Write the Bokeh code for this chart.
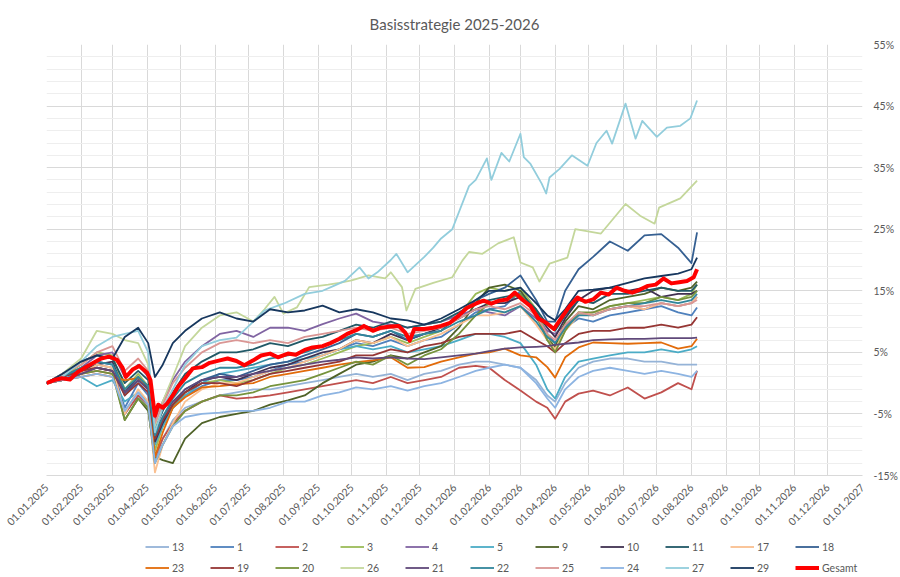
import math
import pandas as pd
from bokeh.plotting import figure
from bokeh.layouts import column
from bokeh.models import FixedTicker, DatetimeTickFormatter, PrintfTickFormatter, Legend, LegendItem
from bokeh.embed import file_html
from bokeh.resources import INLINE

fechas = ["2025-01-01", "2025-01-15", "2025-02-01", "2025-02-15", "2025-03-01", "2025-03-12", "2025-03-24", "2025-04-02", "2025-04-08", "2025-04-15",
          "2025-04-24", "2025-05-05", "2025-05-20", "2025-06-05", "2025-06-20", "2025-07-05", "2025-07-20", "2025-08-05", "2025-08-20", "2025-09-05",
          "2025-09-20", "2025-10-05", "2025-10-20", "2025-11-05", "2025-11-20", "2025-12-05", "2025-12-20", "2026-01-05", "2026-01-20", "2026-02-01",
          "2026-02-15", "2026-03-01", "2026-03-15", "2026-03-25", "2026-04-01", "2026-04-10", "2026-04-22", "2026-05-05", "2026-05-20", "2026-06-05",
          "2026-06-20", "2026-07-05", "2026-07-20", "2026-08-01", "2026-08-06"]

# dichtere Stuetzstellen fuer die auffaelligsten Linien
fechas_26 = ["2025-01-01", "2025-01-15", "2025-02-01", "2025-02-15", "2025-03-01", "2025-03-12", "2025-03-24", "2025-04-02", "2025-04-08", "2025-04-15",
             "2025-04-24", "2025-05-05", "2025-05-20", "2025-06-05", "2025-06-20", "2025-07-05", "2025-07-15", "2025-07-24", "2025-08-01", "2025-08-13",
             "2025-08-24", "2025-09-10", "2025-09-20", "2025-10-01", "2025-10-16", "2025-10-31", "2025-11-05", "2025-11-15", "2025-11-19", "2025-11-27",
             "2025-12-13", "2025-12-30", "2026-01-08", "2026-01-14", "2026-01-26", "2026-02-09", "2026-02-23", "2026-03-01", "2026-03-12", "2026-03-18",
             "2026-03-27", "2026-04-12", "2026-04-19", "2026-05-12", "2026-06-03", "2026-06-16", "2026-06-29", "2026-07-03", "2026-07-22", "2026-08-06"]
fechas_27 = ["2025-01-01", "2025-01-15", "2025-02-01", "2025-02-15", "2025-03-01", "2025-03-12", "2025-03-24", "2025-04-02", "2025-04-08", "2025-04-15",
             "2025-04-24", "2025-05-05", "2025-05-20", "2025-06-05", "2025-06-20", "2025-07-05", "2025-07-15", "2025-08-01", "2025-08-20", "2025-09-05",
             "2025-09-15", "2025-09-25", "2025-10-08", "2025-10-16", "2025-10-24", "2025-11-05", "2025-11-10", "2025-11-20", "2025-12-05", "2025-12-13",
             "2025-12-20", "2025-12-30", "2026-01-14", "2026-01-20", "2026-01-30", "2026-02-03", "2026-02-12", "2026-02-19", "2026-03-01", "2026-03-04",
             "2026-03-10", "2026-03-20", "2026-03-24", "2026-03-27", "2026-04-05", "2026-04-16", "2026-04-30", "2026-05-08", "2026-05-17", "2026-05-22",
             "2026-06-03", "2026-06-12", "2026-06-18", "2026-07-01", "2026-07-10", "2026-07-22", "2026-07-31", "2026-08-06"]
fechas_gesamt = ["2025-01-01", "2025-01-08", "2025-01-15", "2025-01-22", "2025-01-29", "2025-02-05", "2025-02-12", "2025-02-19", "2025-02-26", "2025-03-05",
                 "2025-03-10", "2025-03-13", "2025-03-19", "2025-03-25", "2025-04-01", "2025-04-04", "2025-04-08", "2025-04-11", "2025-04-15", "2025-04-19",
                 "2025-04-24", "2025-04-29", "2025-05-05", "2025-05-12", "2025-05-20", "2025-05-27", "2025-06-05", "2025-06-12", "2025-06-20", "2025-06-27",
                 "2025-07-05", "2025-07-12", "2025-07-20", "2025-07-27", "2025-08-05", "2025-08-12", "2025-08-20", "2025-08-27", "2025-09-05", "2025-09-12",
                 "2025-09-20", "2025-09-27", "2025-10-05", "2025-10-12", "2025-10-20", "2025-10-27", "2025-11-05", "2025-11-12", "2025-11-18", "2025-11-22",
                 "2025-11-26", "2025-12-05", "2025-12-13", "2025-12-20", "2025-12-28", "2026-01-05", "2026-01-12", "2026-01-20", "2026-01-27", "2026-02-03",
                 "2026-02-10", "2026-02-17", "2026-02-24", "2026-03-03", "2026-03-10", "2026-03-17", "2026-03-24", "2026-03-31", "2026-04-07", "2026-04-14",
                 "2026-04-21", "2026-04-28", "2026-05-05", "2026-05-12", "2026-05-19", "2026-05-26", "2026-06-02", "2026-06-09", "2026-06-16", "2026-06-23",
                 "2026-06-30", "2026-07-07", "2026-07-14", "2026-07-21", "2026-07-28", "2026-08-03", "2026-08-06"]

s13 = [0, 1.0, 2.0, 2.5, 2.0, -5.0, -2.0, -4.0, -12.5, -9.0,
       -6.0, -4.0, -3.0, -2.0, -1.5, -1.0, -1.0, -0.5, 0.0, 0.5,
       1.0, 1.5, 1.0, 1.5, 0.5, 1.5, 2.0, 3.0, 3.5, 3.5,
       3.0, 2.5, 0.5, -2.0, -3.0, 0.0, 2.5, 3.5, 4.0, 4.0,
       3.5, 3.5, 3.0, 3.0, 3.0]
s1 = [0, 0.5, 2.0, 3.0, 2.5, -4.0, 0.0, -2.0, -10.0, -7.0,
      -4.0, -2.0, -0.5, 0.5, 0.5, 1.0, 2.0, 3.0, 3.5, 4.5,
      5.5, 6.5, 6.0, 7.0, 6.0, 7.0, 7.5, 9.5, 11.5, 12.0,
      12.5, 15.0, 11.0, 8.0, 6.5, 9.0, 10.5, 10.0, 11.0, 11.5,
      12.0, 12.5, 11.5, 11.0, 12.3]
s2 = [0, 0.5, 1.5, 2.0, 1.5, -5.0, -2.0, -3.5, -12.0, -9.0,
      -6.5, -4.5, -3.0, -2.0, -2.5, -2.3, -2.0, -1.5, -1.0, -0.5,
      0.0, 0.5, 0.0, 1.0, 0.0, 0.5, 1.0, 2.5, 2.8, 2.5,
      0.5, -1.2, -3.0, -4.0, -5.8, -3.0, -1.7, -1.2, -2.0, -0.7,
      -2.5, -1.5, 0.0, -1.0, 2.0]
s3 = [0, 1.0, 3.0, 5.0, 4.5, -1.0, 1.5, -0.5, -11.0, -7.0,
      -4.0, -1.5, 0.0, 0.5, 0.0, 0.5, 1.5, 2.5, 3.0, 4.0,
      5.0, 6.0, 6.5, 7.5, 6.5, 7.5, 8.5, 11.0, 14.5, 15.5,
      15.0, 15.5, 12.0, 8.0, 5.5, 9.0, 11.5, 11.0, 12.5, 13.0,
      13.5, 14.0, 13.5, 14.5, 16.0]
s4 = [0, 1.0, 2.5, 4.5, 5.0, 1.0, 3.0, 1.0, -6.0, -3.0,
      0.5, 3.5, 6.0, 8.0, 8.5, 7.5, 9.0, 9.0, 8.5, 9.6,
      10.5, 11.3, 10.0, 9.5, 9.0, 9.5, 10.0, 11.0, 12.0, 11.5,
      11.0, 12.5, 10.5, 8.5, 8.0, 9.5, 11.0, 11.5, 12.0, 12.5,
      12.0, 13.0, 12.5, 13.0, 14.0]
s5 = [0, 0.5, 1.0, -0.5, 0.5, -3.0, -1.5, -3.0, -10.0, -7.0,
      -4.0, -2.0, 0.0, 1.5, 2.0, 2.5, 3.0, 3.5, 4.0, 4.5,
      5.5, 6.0, 5.5, 6.0, 5.0, 5.5, 6.0, 7.0, 8.0, 8.0,
      7.5, 6.5, 3.0, -1.0, -2.5, 1.0, 3.5, 4.0, 4.5, 5.0,
      5.0, 5.5, 5.0, 5.5, 6.0]
s9 = [0, 0.5, 1.5, 2.5, 2.0, -6.0, -2.5, -4.5, -12.0, -12.5,
      -13.0, -9.0, -6.5, -5.5, -5.0, -4.5, -3.5, -2.8, -2.0, 0.0,
      1.5, 3.0, 3.5, 4.5, 4.0, 5.0, 6.0, 9.0, 13.0, 15.5,
      16.0, 15.0, 11.5, 7.0, 6.0, 10.0, 12.5, 12.0, 13.5, 14.0,
      14.5, 15.5, 15.0, 15.5, 16.5]
s10 = [0, 1.0, 2.0, 3.0, 3.5, -1.5, 1.0, -1.0, -9.5, -6.5,
       -3.5, -1.5, 0.5, 1.0, 0.5, 1.5, 2.5, 3.0, 4.0, 5.0,
       5.5, 7.0, 6.5, 8.0, 7.0, 8.0, 9.0, 10.5, 12.0, 13.0,
       13.0, 14.0, 11.5, 9.0, 7.5, 10.5, 13.5, 15.0, 15.5, 15.0,
       15.5, 14.0, 14.5, 14.5, 15.0]
s11 = [0, 1.5, 3.5, 4.5, 4.0, 0.0, 2.0, 0.5, -7.5, -4.5,
       -1.5, 1.5, 3.5, 5.0, 5.0, 5.5, 6.5, 6.0, 7.0, 7.5,
       8.5, 9.5, 9.0, 10.0, 9.0, 9.5, 10.0, 11.5, 13.0, 13.5,
       14.0, 14.5, 12.0, 9.5, 8.5, 11.0, 13.5, 13.0, 14.5, 14.5,
       15.0, 15.5, 15.0, 15.0, 16.0]
s17 = [0, 0.5, 1.5, 3.0, 2.5, -5.0, -1.0, -3.0, -14.5, -10.0,
       -6.5, -3.0, -1.0, 0.0, 0.0, 1.0, 2.0, 2.5, 3.5, 4.5,
       5.5, 7.0, 6.5, 7.5, 6.0, 7.0, 8.0, 9.5, 11.0, 11.0,
       11.5, 12.5, 9.5, 7.0, 5.5, 8.5, 11.0, 11.5, 12.0, 12.5,
       12.0, 13.0, 12.5, 13.0, 14.0]
s18 = [0, 1.0, 2.5, 3.5, 3.0, -2.0, 0.5, -1.0, -9.0, -6.0,
       -3.5, -1.0, 0.5, 1.5, 1.0, 2.0, 3.0, 3.5, 4.5, 5.5,
       6.5, 8.0, 7.5, 8.5, 7.0, 8.0, 8.5, 11.0, 13.5, 14.5,
       15.5, 17.5, 13.5, 10.0, 10.0, 15.0, 18.5, 20.5, 23.0, 21.5,
       24.0, 24.2, 22.0, 19.5, 24.5]
s23 = [0, 0.5, 1.0, 1.5, 1.0, 0.5, 0.8, -0.5, -12.0, -8.0,
       -4.0, -2.3, -0.7, -0.5, -0.2, 0.0, 1.0, 1.5, 2.0, 2.5,
       3.0, 3.4, 3.7, 4.2, 2.5, 2.6, 3.5, 4.2, 4.8, 5.0,
       5.6, 4.5, 4.2, 2.6, 0.9, 4.2, 5.8, 6.6, 6.5, 6.4,
       6.5, 6.6, 5.6, 6.0, 7.2]
s19 = [0, 1.0, 2.0, 2.5, 2.0, -2.0, 0.0, -1.5, -9.0, -6.0,
       -3.5, -1.5, 0.0, 0.0, -0.5, 0.5, 1.5, 2.0, 2.5, 3.0,
       3.5, 4.5, 4.5, 5.5, 5.0, 6.0, 6.5, 7.5, 8.0, 8.0,
       8.0, 8.5, 7.0, 6.0, 5.0, 6.5, 8.0, 8.5, 8.5, 9.0,
       9.0, 9.5, 9.0, 9.5, 10.7]
s20 = [0, 0.5, 1.5, 2.0, 1.5, -6.0, -2.5, -4.0, -13.0, -10.0,
       -7.0, -4.5, -3.0, -2.0, -2.0, -1.5, -0.5, 0.0, 0.5, 1.5,
       2.5, 3.5, 3.0, 4.5, 3.0, 4.5, 5.5, 8.0, 11.0, 13.0,
       13.5, 14.5, 11.0, 7.0, 5.0, 8.5, 11.5, 11.5, 12.5, 13.0,
       13.0, 14.0, 13.5, 14.0, 15.0]
s26 = [0, 1.5, 4.0, 8.5, 8.0, 7.0, 6.5, 3.0, -7.0, -3.0,
       1.0, 6.0, 9.0, 11.0, 11.5, 10.0, 12.0, 14.0, 11.3, 12.3,
       15.6, 16.0, 16.3, 16.7, 17.5, 17.0, 18.0, 15.6, 11.8, 15.3,
       16.3, 17.2, 19.9, 21.3, 21.0, 22.7, 23.7, 19.6, 18.8, 16.5,
       19.4, 20.4, 25.0, 24.3, 29.1, 27.2, 25.9, 28.5, 30.0, 32.9]
s21 = [0, 0.5, 1.5, 2.5, 2.0, -1.5, 0.5, -1.0, -8.0, -5.5,
       -3.0, -1.0, 0.5, 1.0, 1.0, 1.5, 2.0, 2.5, 3.0, 3.5,
       3.8, 4.2, 4.0, 4.2, 4.0, 3.9, 4.2, 4.5, 4.8, 5.2,
       5.6, 5.8, 5.9, 6.0, 6.2, 6.4, 6.6, 7.0, 7.1, 7.2,
       7.2, 7.3, 7.3, 7.3, 7.4]
s22 = [0, 1.0, 2.5, 3.5, 3.0, -1.0, 1.0, -0.5, -8.5, -5.5,
       -2.5, 0.0, 1.5, 2.5, 2.5, 3.0, 4.0, 4.5, 5.0, 6.0,
       7.0, 8.0, 7.5, 8.5, 7.5, 8.0, 8.5, 10.0, 11.0, 12.0,
       11.5, 12.5, 10.0, 7.5, 6.5, 9.0, 11.0, 11.0, 12.0, 12.5,
       13.0, 13.5, 13.0, 13.5, 14.5]
s25 = [0, 1.5, 3.0, 5.0, 6.0, 2.0, 4.0, 2.0, -6.5, -3.5,
       0.0, 2.5, 5.0, 6.5, 7.0, 6.5, 7.0, 6.5, 7.5, 8.0,
       8.5, 9.0, 8.5, 9.0, 8.0, 8.5, 9.0, 10.5, 12.0, 12.5,
       12.0, 13.0, 11.0, 8.0, 7.0, 9.5, 11.5, 11.0, 12.0, 12.5,
       12.5, 13.0, 12.5, 13.0, 13.5]
s24 = [0, 0.5, 1.0, 1.5, 1.0, -4.5, -1.5, -3.5, -13.0, -10.0,
       -7.0, -5.5, -5.0, -4.8, -4.5, -4.5, -4.0, -3.0, -3.0, -2.0,
       -1.5, -0.7, -1.0, -0.5, -1.2, -0.5, 0.0, 1.0, 2.0, 2.5,
       3.0, 2.5, 0.0, -2.5, -4.0, -1.0, 1.0, 2.0, 2.5, 2.0,
       1.5, 2.0, 1.5, 1.0, 2.0]
s27 = [0, 1.0, 3.5, 6.0, 7.5, 8.0, 8.5, 5.0, -8.0, -4.0,
       -1.0, 3.0, 6.0, 7.0, 7.4, 10.0, 11.8, 12.9, 14.5, 15.0,
       15.8, 16.6, 18.8, 17.0, 18.0, 20.0, 21.0, 18.0, 20.5, 22.0,
       23.5, 25.0, 32.0, 33.0, 36.5, 33.0, 37.4, 36.0, 40.5, 36.7,
       35.6, 32.4, 30.8, 33.4, 34.8, 37.0, 35.3, 39.0, 41.0, 38.9,
       45.4, 39.7, 42.6, 40.0, 41.5, 41.8, 43.0, 45.9]
s29 = [0, 1.5, 3.5, 4.5, 4.0, 7.5, 9.0, 6.5, 1.0, 3.0,
       6.5, 8.5, 10.5, 11.5, 10.5, 10.0, 12.0, 11.5, 11.8, 12.6,
       11.5, 12.0, 11.5, 10.5, 10.2, 9.5, 10.5, 12.0, 13.5, 15.0,
       15.0, 15.5, 13.0, 11.0, 10.2, 12.0, 15.0, 15.2, 15.5, 16.3,
       17.0, 17.4, 17.8, 18.5, 20.4]
gesamt = [0, 0.5, 0.8, 0.6, 1.8, 2.6, 3.3, 4.0, 4.3, 3.8,
          2.5, 1.0, 2.2, 2.8, 1.7, 0.5, -5.3, -3.5, -4.0, -3.3,
          -2.0, -0.5, 0.8, 2.4, 2.6, 3.3, 3.7, 4.0, 3.6, 2.9,
          3.7, 4.5, 4.8, 4.2, 4.8, 4.6, 5.4, 5.8, 6.0, 6.5,
          7.2, 8.0, 8.6, 9.3, 8.5, 9.0, 9.2, 9.3, 8.2, 6.9,
          8.8, 8.8, 9.0, 9.3, 9.8, 11.0, 12.2, 12.9, 13.4, 12.9,
          13.4, 13.6, 14.7, 13.5, 12.5, 10.5, 9.8, 8.8, 10.7, 12.5,
          13.9, 13.2, 13.6, 14.7, 14.4, 15.5, 15.0, 14.7, 15.2, 15.8,
          16.0, 17.0, 16.2, 16.4, 16.6, 17.2, 18.5]

nombres = ["13", "1", "2", "3", "4", "5", "9", "10", "11", "17", "18",
           "23", "19", "20", "26", "21", "22", "25", "24", "27", "29", "Gesamt"]
valores = [s13, s1, s2, s3, s4, s5, s9, s10, s11, s17, s18,
           s23, s19, s20, s26, s21, s22, s25, s24, s27, s29, gesamt]
colores = ["#95B3D7", "#4F81BD", "#C0504D", "#9BBB59", "#8064A2", "#4BACC6", "#4F6228", "#403151", "#215967", "#FABF8F", "#366092",
           "#E26B0A", "#963634", "#76933C", "#C4D79B", "#60497A", "#31869B", "#DA9694", "#8DB4E2", "#92CDDC", "#17375E", "#FF0000"]
fechas_extra = {"26": fechas_26, "27": fechas_27, "Gesamt": fechas_gesamt}

gris = "#595959"
fuente = "Lato"

meses = pd.date_range("2025-01-01", "2027-01-01", freq="MS")

p = figure(width=900, height=533, x_axis_type="datetime", y_axis_location="right",
           x_range=(meses[0], meses[-1]), y_range=(-15, 55),
           output_backend="svg", toolbar_location=None,
           min_border_left=46, min_border_top=44, min_border_bottom=58, min_border_right=0)

p.title.text = "Basisstrategie 2025-2026"
p.title.align = "center"
p.title.text_font = fuente
p.title.text_font_size = "15px"
p.title.text_font_style = "normal"
p.title.text_color = gris
p.title.standoff = 24

p.outline_line_color = None

p.xaxis.ticker = FixedTicker(ticks=[m.timestamp() * 1000 for m in meses])
p.xaxis.formatter = DatetimeTickFormatter(days="%d.%m.%Y", months="%d.%m.%Y", years="%d.%m.%Y")
p.xaxis.major_label_orientation = math.pi / 4
p.xaxis.axis_line_color = "#D9D9D9"
p.xaxis.major_label_standoff = 10

p.yaxis.ticker = FixedTicker(ticks=list(range(-15, 56, 10)),
                             minor_ticks=[v for v in range(-15, 56, 2) if (v + 15) % 10])
p.yaxis.formatter = PrintfTickFormatter(format="%d%%")
p.yaxis.axis_line_color = None
p.yaxis.major_label_standoff = 11

for ax in [p.xaxis, p.yaxis]:
    ax.major_tick_line_color = None
    ax.minor_tick_line_color = None
    ax.major_tick_out = 0
    ax.minor_tick_out = 0
    ax.major_label_text_font = fuente
    ax.major_label_text_font_size = "10.5px"
    ax.major_label_text_color = gris

p.xgrid.grid_line_color = "#D9D9D9"
p.ygrid.grid_line_color = "#D9D9D9"
p.ygrid.minor_grid_line_color = "#EEEEEE"

# Legende in eigener Figur darunter
pl = figure(width=900, height=44, x_range=p.x_range, y_range=p.y_range,
            x_axis_location=None, y_axis_location=None,
            output_backend="svg", toolbar_location=None, min_border=0)
pl.grid.visible = False
pl.outline_line_color = None

items = []
for nombre, vals, color in zip(nombres, valores, colores):
    x = pd.to_datetime(fechas_extra.get(nombre, fechas))
    ancho = 4 if nombre == "Gesamt" else 1.8
    p.line(x, vals, line_color=color, line_width=ancho, line_join="round")
    r = pl.line(x, vals, line_color=color, line_width=ancho, visible=False)
    items.append(LegendItem(label=nombre, renderers=[r]))

for fila, y0 in [(items[:11], 21), (items[11:], 0)]:
    legend = Legend(items=fila, orientation="horizontal", location=(99, y0),
                    glyph_width=24, glyph_height=19, label_height=19, label_width=36,
                    label_standoff=3, spacing=2, padding=0, margin=0,
                    border_line_color=None, background_fill_alpha=0,
                    label_text_font=fuente, label_text_font_size="10.5px", label_text_color=gris)
    pl.add_layout(legend)

open("out.html", "w").write(file_html(column(p, pl), INLINE))
